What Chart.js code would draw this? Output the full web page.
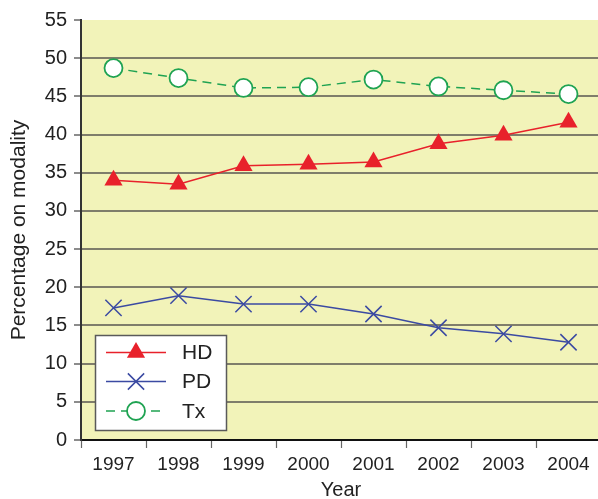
<!DOCTYPE html>
<html>
<head>
<meta charset="utf-8">
<script src="https://cdn.jsdelivr.net/npm/chart.js@4/dist/chart.umd.min.js"></script>
<style>
  html, body { margin: 0; padding: 0; background: #fff; overflow: hidden; }
  #wrap { width: 598px; height: 499px; overflow: hidden; }
  canvas { display: block; }
</style>
</head>
<body>
<div id="wrap"><canvas id="c" width="602" height="499"></canvas></div>
<script>
// Share of patients by treatment modality, 1997–2004
const years = ['1997', '1998', '1999', '2000', '2001', '2002', '2003', '2004'];
const hdValues = [34.0, 33.5, 35.9, 36.1, 36.4, 38.8, 39.9, 41.6];
const pdValues = [17.3, 18.9, 17.8, 17.8, 16.5, 14.7, 13.9, 12.8];
const txValues = [48.7, 47.4, 46.1, 46.2, 47.2, 46.3, 45.8, 45.3];
const yTicks = [0, 5, 10, 15, 20, 25, 30, 35, 40, 45, 50, 55];

const FONT = 'Arial, "Liberation Sans", Helvetica, sans-serif';

// Yellow plotting area
const plotBackground = {
  id: 'plotBackground',
  beforeDraw(chart) {
    const { ctx, chartArea: a } = chart;
    ctx.save();
    ctx.fillStyle = '#f2f3b9';
    ctx.fillRect(a.left, a.top, a.right - a.left, a.bottom - a.top);
    ctx.restore();
  }
};

function drawMarker(ctx, style, x, y, r, fill, stroke, bw) {
  ctx.save();
  ctx.fillStyle = fill;
  ctx.strokeStyle = stroke;
  ctx.lineWidth = bw;
  ctx.beginPath();
  if (style === 'triangle') {
    ctx.moveTo(x, y - r);
    ctx.lineTo(x + r * Math.sin(2 * Math.PI / 3), y + r / 2);
    ctx.lineTo(x - r * Math.sin(2 * Math.PI / 3), y + r / 2);
    ctx.closePath();
    ctx.fill();
  } else if (style === 'crossRot') {
    const o = r * Math.SQRT1_2;
    ctx.moveTo(x - o, y - o); ctx.lineTo(x + o, y + o);
    ctx.moveTo(x - o, y + o); ctx.lineTo(x + o, y - o);
    ctx.stroke();
  } else {
    ctx.arc(x, y, r, 0, Math.PI * 2);
    ctx.fill();
    ctx.stroke();
  }
  ctx.restore();
}

// Boxed legend placed inside the plot, lower left
const insideLegend = {
  id: 'insideLegend',
  afterDraw(chart) {
    const { ctx } = chart;
    const box = { x: 95.5, y: 335.5, w: 131, h: 95 };
    ctx.save();
    ctx.fillStyle = '#ffffff';
    ctx.fillRect(box.x, box.y, box.w, box.h);
    ctx.strokeStyle = '#5a5a5a';
    ctx.lineWidth = 1.5;
    ctx.strokeRect(box.x, box.y, box.w, box.h);
    const rows = [352.5, 381.5, 411];
    chart.data.datasets.forEach((ds, i) => {
      const y = rows[i];
      ctx.save();
      ctx.strokeStyle = ds.borderColor;
      ctx.lineWidth = ds.borderWidth;
      ctx.setLineDash(ds.borderDash || []);
      ctx.beginPath();
      ctx.moveTo(106, y);
      ctx.lineTo(166, y);
      ctx.stroke();
      ctx.restore();
      drawMarker(ctx, ds.pointStyle, 136, y, ds.pointRadius,
        ds.pointBackgroundColor, ds.pointBorderColor, ds.pointBorderWidth);
      ctx.fillStyle = '#222';
      ctx.font = '21px ' + FONT;
      ctx.textBaseline = 'middle';
      ctx.textAlign = 'left';
      ctx.fillText(ds.label, 182, y + 1);
    });
    ctx.restore();
  }
};

new Chart(document.getElementById('c'), {
  type: 'line',
  data: {
    labels: years,
    datasets: [
      {
        label: 'HD',
        data: hdValues,
        borderColor: '#e8212b',
        borderWidth: 1.5,
        pointStyle: 'triangle',
        pointRadius: 10.5,
        pointBackgroundColor: '#e8212b',
        pointBorderColor: '#e8212b',
        pointBorderWidth: 0,
        tension: 0
      },
      {
        label: 'PD',
        data: pdValues,
        borderColor: '#3b4aa2',
        borderWidth: 1.5,
        pointStyle: 'crossRot',
        pointRadius: 11.5,
        pointBackgroundColor: '#3b4aa2',
        pointBorderColor: '#3b4aa2',
        pointBorderWidth: 1.5,
        tension: 0
      },
      {
        label: 'Tx',
        data: txValues,
        borderColor: '#1fa352',
        borderWidth: 1.5,
        borderDash: [9, 6],
        pointStyle: 'circle',
        pointRadius: 9,
        pointBackgroundColor: '#ffffff',
        pointBorderColor: '#1fa352',
        pointBorderWidth: 1.8,
        tension: 0
      }
    ]
  },
  options: {
    responsive: false,
    animation: false,
    layout: { autoPadding: false, padding: { top: 20, right: 1, left: 0, bottom: 0 } },
    plugins: {
      legend: { display: false },
      tooltip: { enabled: false }
    },
    scales: {
      x: {
        offset: true,
        grid: {
          offset: true,
          drawOnChartArea: false,
          drawTicks: true,
          tickLength: 8,
          tickColor: '#666',
          tickWidth: 1.2
        },
        border: { display: true, color: '#111', width: 2 },
        ticks: {
          color: '#222',
          font: { family: FONT, size: 19 },
          padding: 5,
          maxRotation: 0,
          autoSkip: false
        },
        title: {
          display: true,
          text: 'Year',
          color: '#222',
          font: { family: FONT, size: 20 },
          padding: { top: 0, bottom: -3 }
        },
        afterFit(scale) {
          scale.height = 59;
          scale.paddingLeft = 0;
          scale.paddingRight = 0;
        }
      },
      y: {
        min: 0,
        max: 55,
        afterBuildTicks(scale) { scale.ticks = yTicks.map(v => ({ value: v })); },
        grid: {
          color(ctx) {
            const v = ctx.tick && ctx.tick.value;
            return (v === 0 || v === 55) ? 'rgba(0,0,0,0)' : '#7f7d6b';
          },
          lineWidth: 2,
          drawTicks: true,
          tickLength: 7,
          tickColor: '#666',
          tickWidth: 1.5
        },
        border: { display: true, color: '#333', width: 2 },
        ticks: {
          color: '#222',
          font: { family: FONT, size: 20 },
          padding: 7
        },
        title: {
          display: true,
          text: 'Percentage on modality',
          color: '#222',
          font: { family: FONT, size: 21 },
          padding: { top: 7, bottom: 0 }
        },
        afterFit(scale) { scale.width = 81; }
      }
    }
  },
  plugins: [plotBackground, insideLegend]
});
</script>
</body>
</html>
